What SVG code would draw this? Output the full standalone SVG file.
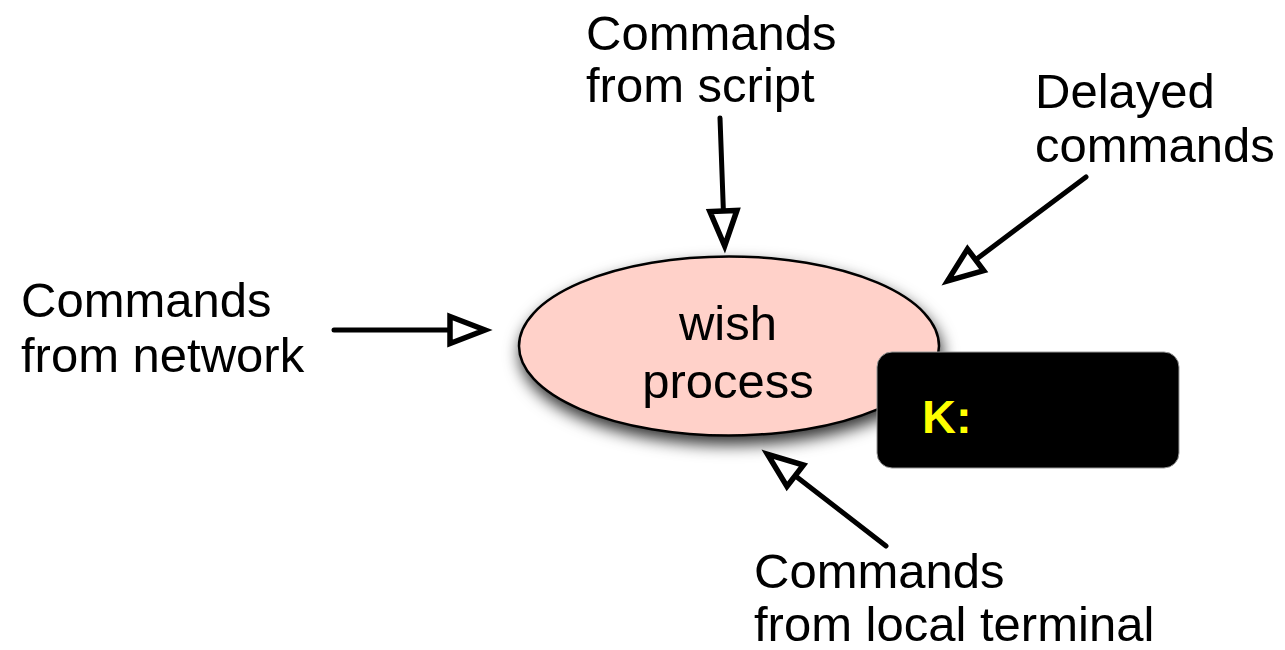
<svg xmlns="http://www.w3.org/2000/svg" width="1285" height="650" viewBox="0 0 1285 650">
  <style>
    .label { font-family: "Liberation Sans", Arial, sans-serif; font-size: 49px; fill: #000; }
    .mid { text-anchor: middle; }
    .conn { stroke: #000; stroke-width: 5; stroke-linecap: round; fill: none; marker-end: url(#openHead); }
    .prompt { font-family: "Liberation Sans", Arial, sans-serif; font-size: 47px; font-weight: bold; fill: #ffff00; }
  </style>
  <defs>
    <!-- hollow triangular arrowhead; its base sits on the line end -->
    <marker id="openHead" markerUnits="userSpaceOnUse" viewBox="-6 -22 58 44" markerWidth="58" markerHeight="44" refX="0" refY="0" orient="auto">
      <path d="M0,-13.5 L35,0 L0,13.5 Z" fill="#fff" stroke="#000" stroke-width="5.5" stroke-linejoin="miter"/>
    </marker>
    <filter id="softShadow" x="-20%" y="-30%" width="140%" height="170%">
      <feDropShadow dx="2" dy="8" stdDeviation="8" flood-color="#000" flood-opacity="0.8"/>
    </filter>
  </defs>

  <g id="connectors">
    <line class="conn" x1="720" y1="118" x2="723.4" y2="211"/>
    <line class="conn" x1="334" y1="330" x2="450" y2="330"/>
    <line class="conn" x1="1086" y1="177" x2="975.6" y2="259.8"/>
    <line class="conn" x1="886" y1="546" x2="795.2" y2="475.7"/>
  </g>

  <g id="wish-process">
    <ellipse cx="729" cy="346" rx="210" ry="89.5" fill="#ffd1c9" stroke="#000" stroke-width="2.5" filter="url(#softShadow)"/>
    <text class="label mid" x="728" y="340">wish</text>
    <text class="label mid" x="728" y="398">process</text>
  </g>

  <g id="terminal">
    <rect x="877" y="352" width="302" height="116" rx="15" ry="15" fill="#000" stroke="#999" stroke-width="1"/>
    <text class="prompt" x="922" y="433">K:</text>
  </g>

  <g id="script-source">
    <text class="label" x="586" y="50">Commands</text>
    <text class="label" x="586" y="102">from script</text>
  </g>

  <g id="delayed-source">
    <text class="label" x="1035" y="108">Delayed</text>
    <text class="label" x="1035" y="162">commands</text>
  </g>

  <g id="network-source">
    <text class="label" x="21" y="317">Commands</text>
    <text class="label" x="21" y="372">from network</text>
  </g>

  <g id="terminal-source">
    <text class="label" x="754" y="588">Commands</text>
    <text class="label" x="754" y="641">from local terminal</text>
  </g>
</svg>
